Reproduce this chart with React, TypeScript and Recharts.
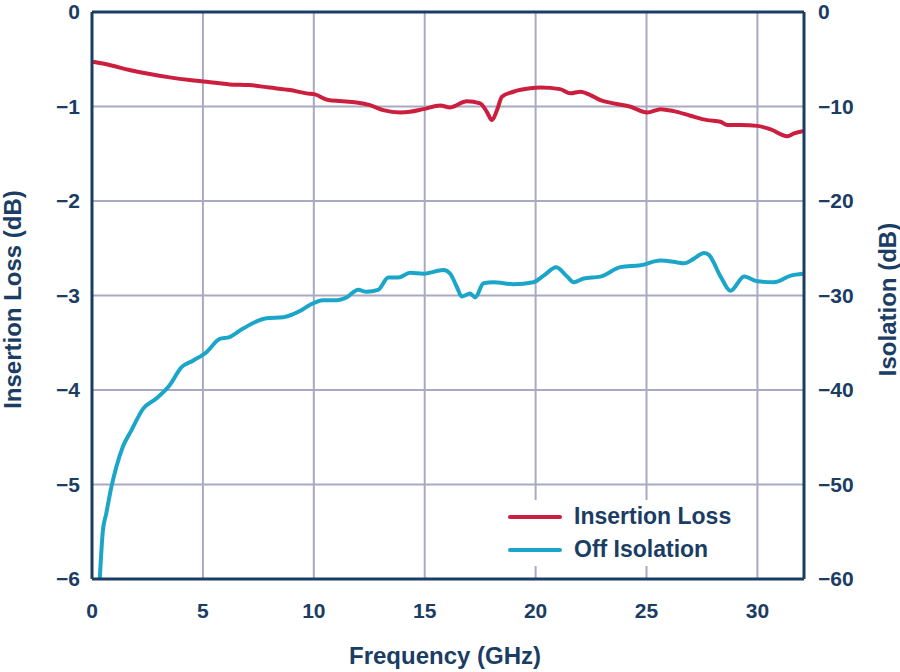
import React from 'react';
import { LineChart, Line, XAxis, YAxis, CartesianGrid, ReferenceLine } from 'recharts';

const lossFreq = [0.05, 0.79, 1.69, 2.6, 3.5, 4.4, 5.16, 6.2, 7.1, 8.0, 8.92, 9.67, 10.05, 10.65, 11.18, 11.93, 12.53, 13.13, 13.89, 14.34, 14.94, 15.7, 16.15, 16.9, 17.5, 17.8, 18.03, 18.26, 18.48, 19.0, 19.76, 20.21, 21.1, 21.57, 22.02, 22.47, 22.92, 23.52, 24.28, 25.03, 25.63, 26.23, 26.98, 27.74, 28.34, 28.64, 29.24, 30.0, 30.6, 31.35, 31.65, 32.1];
const lossDb = [-0.527, -0.561, -0.614, -0.657, -0.692, -0.72, -0.738, -0.766, -0.773, -0.8, -0.826, -0.861, -0.872, -0.932, -0.943, -0.957, -0.985, -1.038, -1.063, -1.056, -1.028, -0.99, -1.01, -0.945, -0.967, -1.056, -1.144, -1.038, -0.897, -0.844, -0.808, -0.8, -0.816, -0.861, -0.844, -0.879, -0.932, -0.967, -1.003, -1.063, -1.028, -1.049, -1.098, -1.144, -1.162, -1.197, -1.197, -1.205, -1.243, -1.314, -1.285, -1.26];

const isoFreq = [0.35, 0.49, 0.64, 0.87, 1.09, 1.39, 1.77, 2.3, 2.9, 3.5, 4.03, 4.55, 5.16, 5.76, 6.2, 6.81, 7.87, 8.62, 9.37, 9.82, 10.42, 11.03, 11.48, 12.0, 12.38, 12.9, 13.36, 13.81, 14.34, 14.94, 15.85, 16.15, 16.45, 16.67, 17.05, 17.28, 17.65, 18.1, 19.0, 19.9, 20.36, 20.93, 21.42, 21.72, 22.17, 22.92, 23.83, 24.73, 25.63, 26.39, 26.69, 27.14, 27.59, 27.81, 28.34, 28.79, 29.4, 30.0, 30.75, 31.5, 32.05];
const isoDb = [-60, -54.9, -53.1, -50.3, -48.2, -46.0, -44.3, -42.0, -40.9, -39.5, -37.6, -36.9, -36.0, -34.6, -34.4, -33.5, -32.4, -32.3, -31.65, -31.0, -30.5, -30.5, -30.2, -29.4, -29.6, -29.4, -28.1, -28.1, -27.6, -27.7, -27.3, -27.7, -29.1, -30.1, -29.8, -30.2, -28.7, -28.6, -28.8, -28.6, -27.9, -27.0, -28.0, -28.6, -28.2, -28.0, -27.0, -26.8, -26.3, -26.5, -26.6, -26.1, -25.5, -25.7, -28.0, -29.5, -28.0, -28.5, -28.6, -27.9, -27.7];

const xTicks = [0, 5, 10, 15, 20, 25, 30];
const leftTicks = [0, -1, -2, -3, -4, -5, -6];
const rightTicks = [0, -10, -20, -30, -40, -50, -60];
const seriesNames = ['Insertion Loss', 'Off Isolation'];

const lossData = lossFreq.map((f, i) => ({ f, loss: lossDb[i] }));
const isoData = isoFreq.map((f, i) => ({ f, iso: isoDb[i] }));

const NAVY = '#1b3d63';
const RED = '#cc1f3f';
const CYAN = '#1ba6c9';
const GRID = '#a9a9c3';
const FONT = '"Liberation Sans", Arial, Helvetica, sans-serif';

const fmt = (v: number) => (v < 0 ? '\u2212' + Math.abs(v) : String(v));

const tickStyle = { fill: NAVY, fontSize: 21, fontWeight: 700, fontFamily: FONT };

const LeftTitle = (props: any) => {
  const vb = props.viewBox;
  const x = vb.x + 21;
  const y = vb.y + vb.height / 2 + 4;
  return (
    <text x={x} y={y} transform={`rotate(-90, ${x}, ${y})`} textAnchor="middle" fill={NAVY} fontSize={24} fontWeight={700} fontFamily={FONT}>
      Insertion Loss (dB)
    </text>
  );
};

const RightTitle = (props: any) => {
  const vb = props.viewBox;
  const x = vb.x + 92;
  const y = vb.y + vb.height / 2 + 4;
  return (
    <text x={x} y={y} transform={`rotate(-90, ${x}, ${y})`} textAnchor="middle" fill={NAVY} fontSize={24} fontWeight={700} fontFamily={FONT}>
      Isolation (dB)
    </text>
  );
};

const BottomTitle = (props: any) => {
  const vb = props.viewBox;
  return (
    <text x={vb.x + vb.width / 2 - 3} y={vb.y + 85} textAnchor="middle" fill={NAVY} fontSize={24} fontWeight={700} fontFamily={FONT}>
      Frequency (GHz)
    </text>
  );
};

const LegendBox = () => {
  const colors = [RED, CYAN];
  return (
    <div style={{ position: 'absolute', left: 500, top: 500, width: 245, paddingLeft: 8, background: '#fff' }}>
      {seriesNames.map((name, i) => (
        <div key={name} style={{ display: 'flex', alignItems: 'center', height: 33 }}>
          <svg width={54} height={6} style={{ display: 'block' }}>
            <line x1={2} y1={3} x2={52} y2={3} stroke={colors[i]} strokeWidth={4} strokeLinecap="round" />
          </svg>
          <span style={{ marginLeft: 12, color: NAVY, fontSize: 23, fontWeight: 700, fontFamily: FONT, lineHeight: '33px', whiteSpace: 'nowrap' }}>
            {name}
          </span>
        </div>
      ))}
    </div>
  );
};

export default function App() {
  return (
    <div style={{ position: 'absolute', left: 0, top: 0, width: 900, height: 672, background: '#fff' }}>
      <LineChart width={900} height={672} margin={{ top: 12, right: 0, bottom: 0, left: 0 }}>
        <CartesianGrid stroke={GRID} strokeWidth={2} yAxisId="left" />
        <XAxis
          dataKey="f"
          type="number"
          domain={[0, 32.1]}
          ticks={xTicks}
          interval={0}
          allowDataOverflow
          height={93}
          tickSize={0}
          tickMargin={24}
          tick={tickStyle}
          axisLine={{ stroke: NAVY, strokeWidth: 3 }}
          tickLine={false}
          label={<BottomTitle />}
        />
        <YAxis
          yAxisId="left"
          orientation="left"
          domain={[-6, 0]}
          ticks={leftTicks}
          interval={0}
          width={92}
          tickSize={0}
          tickMargin={12}
          tick={tickStyle}
          tickFormatter={fmt}
          axisLine={{ stroke: NAVY, strokeWidth: 3 }}
          tickLine={false}
          label={<LeftTitle />}
        />
        <YAxis
          yAxisId="right"
          orientation="right"
          domain={[-60, 0]}
          ticks={rightTicks}
          interval={0}
          width={96}
          tickSize={0}
          tickMargin={14}
          tick={tickStyle}
          tickFormatter={fmt}
          axisLine={{ stroke: NAVY, strokeWidth: 3 }}
          tickLine={false}
          label={<RightTitle />}
        />
        <ReferenceLine yAxisId="left" y={0} stroke={NAVY} strokeWidth={3} />
        <Line
          data={lossData}
          name={seriesNames[0]}
          yAxisId="left"
          dataKey="loss"
          type="monotone"
          stroke={RED}
          strokeWidth={4}
          dot={false}
          activeDot={false}
          isAnimationActive={false}
        />
        <Line
          data={isoData}
          name={seriesNames[1]}
          yAxisId="right"
          dataKey="iso"
          type="monotone"
          stroke={CYAN}
          strokeWidth={4}
          dot={false}
          activeDot={false}
          isAnimationActive={false}
        />
      </LineChart>
      <LegendBox />
    </div>
  );
}
